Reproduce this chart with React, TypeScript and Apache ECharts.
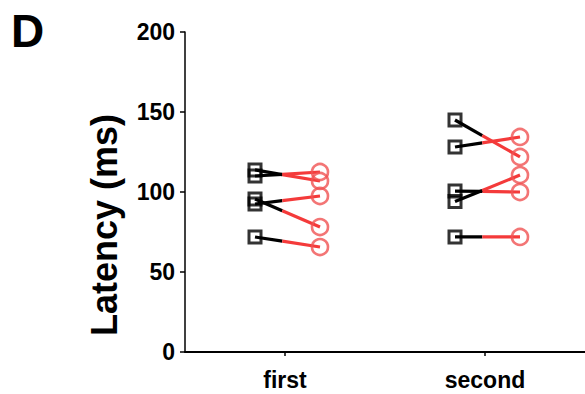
import React, { useEffect, useRef } from "react";
import * as echarts from "echarts";

// Paired latency measurements (ms): black squares = before, red circles = after
const categories = ["first", "second"];
const firstBefore = [113.8, 110.0, 95.6, 92.5, 71.9];
const firstAfter = [106.9, 112.5, 78.1, 97.5, 65.6];
const secondBefore = [145.0, 128.1, 100.6, 94.0, 71.9];
const secondAfter = [121.9, 134.4, 100.0, 110.6, 71.9];
const yTicks = [0, 50, 100, 150, 200];

const groups = [
  { before: firstBefore, after: firstAfter },
  { before: secondBefore, after: secondAfter },
];

const BLACK = "#000000";
const LINE_RED = "#f43a3a";
const CIRCLE_RED = "#f05252";
const FONT = "'Liberation Sans', Arial, Helvetica, sans-serif";

export default function App() {
  const ref = useRef<HTMLDivElement>(null);

  useEffect(() => {
    if (!ref.current) return;
    const chart = echarts.init(ref.current, undefined, { renderer: "svg" });

    const beforeOffset = -0.15;
    const afterOffset = 0.175;
    const split = 0.42; // fraction of each connector drawn in black

    const series: any[] = [];
    const squares: number[][] = [];
    const circles: number[][] = [];

    groups.forEach((g, gi) => {
      const center = gi + 0.5;
      g.before.forEach((b, i) => {
        const a = g.after[i];
        const x0 = center + beforeOffset;
        const x1 = center + afterOffset;
        const xm = x0 + (x1 - x0) * split;
        const ym = b + (a - b) * split;
        squares.push([x0, b]);
        circles.push([x1, a]);
        series.push({
          type: "line",
          data: [
            [x0, b],
            [xm, ym],
          ],
          symbol: "none",
          lineStyle: { color: BLACK, width: 3.2 },
          z: 2,
          silent: true,
        });
        series.push({
          type: "line",
          data: [
            [xm, ym],
            [x1, a],
          ],
          symbol: "none",
          lineStyle: { color: LINE_RED, width: 3.2 },
          z: 2,
          silent: true,
        });
      });
    });

    series.push({
      type: "scatter",
      data: squares,
      symbol: "rect",
      symbolSize: 12,
      itemStyle: { color: "rgba(255,255,255,0)", borderColor: BLACK, borderWidth: 3 },
      z: 3,
    });
    series.push({
      type: "scatter",
      data: circles,
      symbol: "circle",
      symbolSize: 16,
      itemStyle: { color: "rgba(255,255,255,0)", borderColor: CIRCLE_RED, borderWidth: 2.6 },
      z: 3,
    });

    chart.setOption({
      animation: false,
      backgroundColor: "#ffffff",
      grid: { left: 185, right: 0, top: 32, bottom: 42, containLabel: false, outerBoundsMode: "none" },
      xAxis: {
        type: "value",
        min: 0,
        max: 2,
        axisLine: { show: true, onZero: false, lineStyle: { color: BLACK, width: 2 } },
        axisTick: {
          show: true,
          customValues: [0.5, 1.5],
          length: 4,
          lineStyle: { color: BLACK, width: 1.5 },
        },
        axisLabel: {
          customValues: [0.5, 1.5],
          formatter: (v: number) => categories[Math.round(v - 0.5)] ?? "",
          fontFamily: FONT,
          fontWeight: "bold",
          fontSize: 23,
          color: BLACK,
          margin: 16,
        },
        splitLine: { show: false },
      },
      yAxis: {
        type: "value",
        min: yTicks[0],
        max: yTicks[yTicks.length - 1],
        interval: 50,
        axisLine: { show: true, lineStyle: { color: BLACK, width: 1.5 } },
        axisTick: { show: true, length: 5, lineStyle: { color: BLACK, width: 1.5 } },
        axisLabel: {
          fontFamily: FONT,
          fontWeight: "bold",
          fontSize: 23,
          color: BLACK,
          margin: 10,
        },
        splitLine: { show: false },
      },
      graphic: [
        {
          type: "text",
          left: 11,
          top: 8,
          style: { text: "D", font: `bold 46px ${FONT}`, fill: BLACK },
        },
        {
          type: "text",
          x: 104,
          y: 225,
          rotation: Math.PI / 2,
          style: {
            text: "Latency (ms)",
            font: `bold 36px ${FONT}`,
            fill: BLACK,
            align: "center",
            verticalAlign: "middle",
          },
        },
      ],
      series,
    });

    return () => chart.dispose();
  }, []);

  return (
    <div
      ref={ref}
      style={{ position: "fixed", left: 0, top: 0, width: 585, height: 394 }}
    />
  );
}
